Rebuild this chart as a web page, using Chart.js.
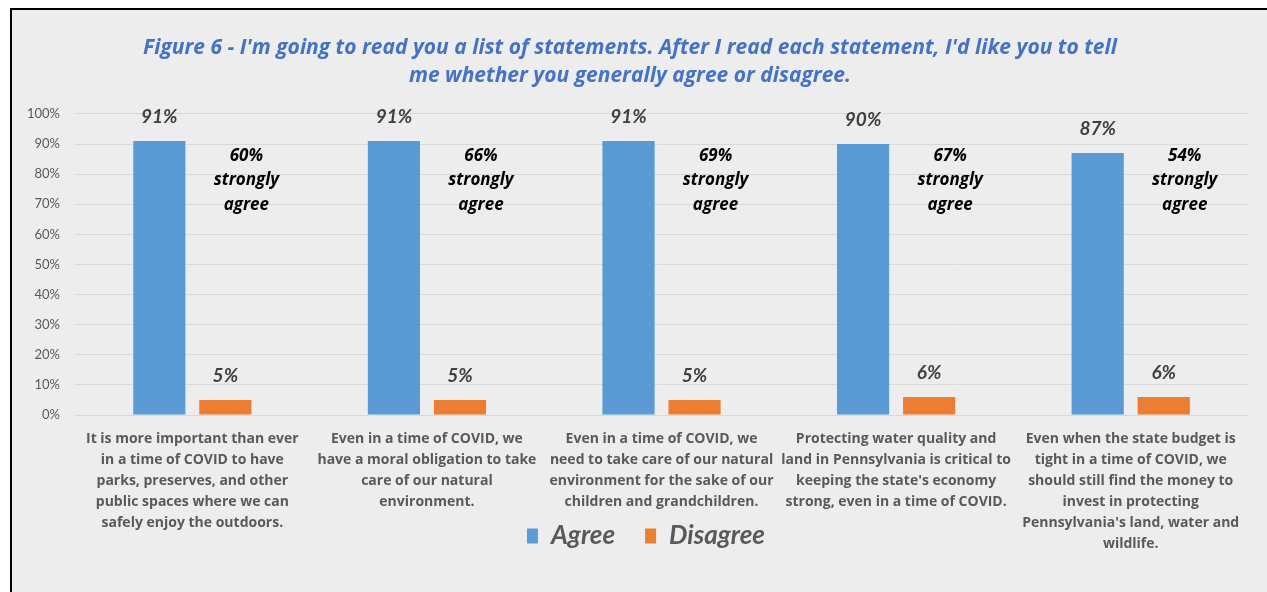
<!DOCTYPE html>
<html>
<head>
<meta charset="utf-8">
<script src="https://cdn.jsdelivr.net/npm/chart.js@4.4.0/dist/chart.umd.min.js"></script>
<style>
    html, body { margin: 0; padding: 0; background: #fff; overflow: hidden; }
    #frame {
        position: absolute; left: 10px; top: 8px; width: 1270px; height: 600px;
        border-left: 2px solid #000; border-top: 2px solid #000; background: #ededed;
    }
    #wrap { position: absolute; left: 0; top: 0; width: 1255px; height: 583px; }
</style>
</head>
<body>
<div id="frame"><div id="wrap"><canvas id="agreeChart"></canvas></div></div>
<script>
// Data
const statements = [
    ['It is more important than ever', 'in a time of COVID to have', 'parks, preserves, and other', 'public spaces where we can', 'safely enjoy the outdoors.'],
    ['Even in a time of COVID, we', 'have a moral obligation to take', 'care of our natural', 'environment.'],
    ['Even in a time of COVID, we', 'need to take care of our natural', 'environment for the sake of our', 'children and grandchildren.'],
    ['Protecting water quality and', 'land in Pennsylvania is critical to', "keeping the state's economy", 'strong, even in a time of COVID.'],
    ['Even when the state budget is', 'tight in a time of COVID, we', 'should still find the money to', 'invest in protecting', "Pennsylvania's land, water and", 'wildlife.']
];
const agree = [91, 91, 91, 90, 87];
const disagree = [5, 5, 5, 6, 6];
const stronglyAgree = [60, 66, 69, 67, 54];
const yTicks = [0, 10, 20, 30, 40, 50, 60, 70, 80, 90, 100];

// value labels above bars + "strongly agree" notes
const barLabels = {
    id: 'barLabels',
    afterLayout(chart) {
        // nudge the legend a little right, as in the original
        chart.legend.left += 16;
        chart.legend.right += 16;
    },
    afterDatasetsDraw(chart) {
        const ctx = chart.ctx;
        ctx.save();
        ctx.textAlign = 'center';
        ctx.textBaseline = 'middle';
        ctx.font = 'italic bold 19px Lato';
        ctx.fillStyle = '#404040';
        chart.data.datasets.forEach((ds, i) => {
            chart.getDatasetMeta(i).data.forEach((bar, j) => {
                ctx.fillText(ds.data[j] + '%', bar.x, bar.y - 24);
            });
        });

        const yTop = chart.scales.y.getPixelForValue(86);
        ctx.font = 'italic bold 17px "Open Sans"';
        ctx.fillStyle = '#000';
        chart.getDatasetMeta(1).data.forEach((bar, j) => {
            const lines = [stronglyAgree[j] + '%', 'strongly', 'agree'];
            lines.forEach((t, k) => ctx.fillText(t, bar.x + 21, yTop + k * 24.5));
        });
        ctx.restore();
    }
};

const config = {
    type: 'bar',
    data: {
        labels: statements,
        datasets: [{
            label: 'Agree',
            data: agree,
            backgroundColor: '#5b9bd5',
            barPercentage: 0.79,
            categoryPercentage: 0.563
        }, {
            label: 'Disagree',
            data: disagree,
            backgroundColor: '#ed7d31',
            barPercentage: 0.79,
            categoryPercentage: 0.563
        }]
    },
    options: {
        responsive: true,
        maintainAspectRatio: false,
        animation: false,
        layout: { padding: { left: 0, right: 19, top: 0, bottom: 34 } },
        plugins: {
            title: {
                display: true,
                text: ["Figure 6 - I'm going to read you a list of statements. After I read each statement, I'd like you to tell",
                       'me whether you generally agree or disagree.'],
                color: '#4472c4',
                font: { family: 'Open Sans', size: 21, weight: 'bold', style: 'italic', lineHeight: 1.333 },
                padding: { top: 24, bottom: 24 }
            },
            legend: {
                position: 'bottom',
                labels: {
                    color: '#595959',
                    boxWidth: 11,
                    boxHeight: 15,
                    padding: 30,
                    font: { family: 'Lato', size: 26, weight: 'bold', style: 'italic' }
                }
            },
            tooltip: { enabled: false }
        },
        scales: {
            x: {
                grid: { display: false, drawTicks: false },
                border: { display: false },
                ticks: {
                    color: '#595959',
                    autoSkip: false,
                    maxRotation: 0,
                    padding: 14,
                    font: { family: 'Open Sans', size: 14, weight: 'bold', lineHeight: 1.5 }
                },
                afterFit(scale) {
                    // let the long labels run under the legend, like the original
                    scale.height = 78;
                    scale._computeLabelArea = () => undefined;
                }
            },
            y: {
                min: 0,
                max: 100,
                afterBuildTicks(scale) { scale.ticks = yTicks.map(v => ({ value: v })); },
                grid: { color: '#d9d9d9', drawTicks: false },
                border: { display: false },
                ticks: {
                    color: '#595959',
                    padding: 15,
                    font: { family: 'Lato', size: 13 },
                    callback: v => v + '%'
                }
            }
        }
    },
    plugins: [barLabels]
};

window.onload = function () {
    const canva = document.getElementById('agreeChart');
    if (canva) {
        new Chart(canva.getContext('2d'), config);
    }
};
</script>
</body>
</html>
